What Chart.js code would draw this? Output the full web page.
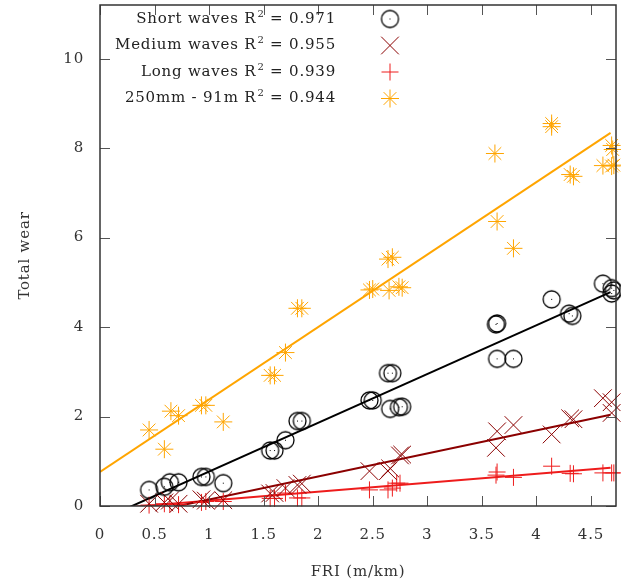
<!DOCTYPE html>
<html><head><meta charset="utf-8">
<script src="https://cdn.jsdelivr.net/npm/chart.js@4/dist/chart.umd.min.js"></script>
<style>html,body{margin:0;padding:0;background:#fff;}</style>
</head><body>
<canvas id="c" width="621" height="586"></canvas>
<script>
// ---- data ----
const seriesNames = ["Short waves", "Medium waves", "Long waves", "250mm - 91m"];
const r2Values = ["0.971", "0.955", "0.939", "0.944"];

const shortX = [0.45,0.59,0.64,0.72,0.93,0.97,1.13,1.56,1.60,1.70,1.81,1.85,2.47,2.50,2.64,2.68,2.66,2.74,2.77,3.63,3.64,3.64,3.79,4.14,4.30,4.33,4.61,4.69,4.69,4.71];
const shortY = [0.36,0.43,0.53,0.53,0.65,0.65,0.51,1.24,1.24,1.47,1.90,1.90,2.36,2.36,2.97,2.97,2.17,2.21,2.22,4.06,4.08,3.29,3.29,4.62,4.30,4.25,4.97,4.87,4.75,4.82];

const mediumX = [0.45,0.59,0.64,0.72,0.93,0.97,1.13,1.56,1.60,1.70,1.81,1.85,2.47,2.64,2.66,2.75,2.77,3.63,3.64,3.79,4.14,4.31,4.34,4.61,4.69,4.69];
const mediumY = [0.05,0.08,0.12,0.05,0.15,0.12,0.13,0.28,0.29,0.40,0.47,0.50,0.78,0.78,0.84,1.13,1.15,1.30,1.67,1.81,1.60,1.96,1.94,2.41,2.32,2.08];

const longX = [0.45,0.59,0.64,0.72,0.93,0.97,1.13,1.56,1.60,1.70,1.81,1.85,2.47,2.64,2.68,2.72,2.75,3.63,3.64,3.79,4.14,4.31,4.34,4.61,4.69,4.71];
const longY = [0.02,0.05,0.04,0.03,0.08,0.10,0.10,0.17,0.17,0.29,0.18,0.18,0.36,0.36,0.40,0.51,0.51,0.69,0.76,0.64,0.89,0.73,0.72,0.74,0.74,0.74];

const mmX = [0.45,0.59,0.65,0.72,0.93,0.97,1.13,1.56,1.60,1.70,1.81,1.85,2.47,2.50,2.64,2.68,2.65,2.74,2.77,3.62,3.64,3.79,4.14,4.14,4.31,4.34,4.61,4.69,4.70,4.69,4.71];
const mmY = [1.70,1.27,2.12,2.02,2.25,2.25,1.88,2.92,2.92,3.43,4.42,4.42,4.83,4.85,5.52,5.56,4.82,4.90,4.88,7.88,6.36,5.76,8.55,8.48,7.41,7.37,7.61,8.06,7.97,7.60,7.62];

// linear fits (slope, intercept) per series
const fitSlope = [1.09, 0.515, 0.20, 1.62];
const fitIntercept = [-0.32, -0.37, -0.08, 0.76];
const fitRange = [0, 4.68];

const xTicks = [0, 0.5, 1, 1.5, 2, 2.5, 3, 3.5, 4, 4.5];
const yTicks = [0, 2, 4, 6, 8, 10];

// ---- styles ----
const FONT = "'DejaVu Serif', serif";
const FSIZE = 15;
const SPACING = '0.8px';
const colors = ["#000000", "#8b0000", "#ee1c1c", "#ffa500"];

function circleDot() {
  const c = document.createElement('canvas');
  c.width = 21; c.height = 21;
  const g = c.getContext('2d');
  g.strokeStyle = '#000'; g.lineWidth = 1.3;
  g.beginPath(); g.arc(10.5, 10.5, 8.5, 0, Math.PI * 2); g.stroke();
  g.fillStyle = '#000'; g.fillRect(10, 10, 1, 1);
  return c;
}
const circleImg = circleDot();

const styles = [
  { pointStyle: circleImg, radius: 9 },
  { pointStyle: 'crossRot', radius: 12.5 },
  { pointStyle: 'cross', radius: 8.5 },
  { pointStyle: 'star', radius: 9 }
];

const xs = [shortX, mediumX, longX, mmX];
const ys = [shortY, mediumY, longY, mmY];

const datasets = [];
for (let i = 0; i < 4; i++) {
  datasets.push({
    type: 'scatter',
    label: seriesNames[i] + " R\u00B2 = " + r2Values[i],
    data: xs[i].map((x, k) => ({ x: x, y: ys[i][k] })),
    pointStyle: styles[i].pointStyle,
    pointRadius: styles[i].radius,
    pointHoverRadius: styles[i].radius,
    borderColor: colors[i],
    backgroundColor: 'rgba(0,0,0,0)',
    borderWidth: 1,
    showLine: false,
    clip: false,
    isSeries: true,
    seriesIndex: i
  });
}
for (let i = 0; i < 4; i++) {
  datasets.push({
    type: 'line',
    label: seriesNames[i] + " fit",
    data: fitRange.map(x => ({ x: x, y: fitSlope[i] * x + fitIntercept[i] })),
    borderColor: colors[i],
    borderWidth: 2,
    pointRadius: 0,
    showLine: true,
    fill: false,
    tension: 0
  });
}

const spacingPlugin = {
  id: 'gpSpacing',
  beforeDraw(chart) { try { chart.ctx.letterSpacing = SPACING; } catch (e) {} }
};

const frame = {
  id: 'gpFrame',
  afterDatasetsDraw(chart) {
    const { ctx, chartArea: a } = chart;
    const xs_ = chart.scales.x, ys_ = chart.scales.y;
    ctx.save();
    ctx.strokeStyle = '#555'; ctx.lineWidth = 1;
    const L = 10;
    ctx.beginPath();
    xTicks.forEach(v => {
      const px = Math.round(xs_.getPixelForValue(v)) + 0.5;
      ctx.moveTo(px, a.bottom); ctx.lineTo(px, a.bottom - L);
      ctx.moveTo(px, a.top); ctx.lineTo(px, a.top + L);
    });
    yTicks.forEach(v => {
      const py = Math.round(ys_.getPixelForValue(v)) + 0.5;
      ctx.moveTo(a.left, py); ctx.lineTo(a.left + L, py);
      ctx.moveTo(a.right, py); ctx.lineTo(a.right - L, py);
    });
    ctx.stroke();
    ctx.strokeStyle = '#333'; ctx.lineWidth = 1.5;
    ctx.strokeRect(a.left, a.top, a.right - a.left, a.bottom - a.top);

    // legend (gnuplot style: right-aligned text, marker on the right)
    const textRight = 336, markX = 390;
    try { ctx.letterSpacing = SPACING; } catch (e) {}
    chart.data.datasets.filter(d => d.isSeries).forEach((ds, i) => {
      const y = 19 + i * 26.5;
      ctx.fillStyle = '#222';
      ctx.textBaseline = 'middle';
      ctx.textAlign = 'right';
      ctx.font = FSIZE + "px " + FONT;
      const tail = " = " + r2Values[ds.seriesIndex];
      ctx.fillText(tail, textRight, y);
      let xr = textRight - ctx.measureText(tail).width;
      ctx.font = "10px " + FONT;
      ctx.fillText("2", xr, y - 5);
      xr -= ctx.measureText("2").width + 1;
      ctx.font = FSIZE + "px " + FONT;
      ctx.fillText(seriesNames[ds.seriesIndex] + " R", xr, y);
      ctx.strokeStyle = ds.borderColor;
      ctx.lineWidth = 1;
      Chart.helpers.drawPoint(ctx, { pointStyle: ds.pointStyle, radius: ds.pointRadius, rotation: 0, borderWidth: 1 }, markX, y);
    });
    ctx.restore();
  }
};

new Chart(document.getElementById('c'), {
  type: 'scatter',
  data: { datasets: datasets },
  plugins: [spacingPlugin, frame],
  options: {
    responsive: false,
    animation: false,
    devicePixelRatio: 1,
    layout: { autoPadding: false, padding: { top: 5, right: 5, left: 0, bottom: 0 } },
    font: { family: FONT, size: FSIZE },
    plugins: { legend: { display: false }, tooltip: { enabled: false } },
    scales: {
      x: {
        type: 'linear', min: 0, max: 4.73,
        grid: { display: false, drawTicks: false },
        border: { display: false },
        afterBuildTicks: s => { s.ticks = xTicks.map(v => ({ value: v })); },
        afterFit: s => { s.height = 80; s.paddingLeft = 0; s.paddingRight = 0; },
        ticks: { padding: 20, color: '#333', font: { family: FONT, size: FSIZE }, maxRotation: 0, autoSkip: false,
                 callback: v => String(v) },
        title: { display: true, text: 'FRI (m/km)', color: '#333', font: { family: FONT, size: FSIZE },
                 padding: { top: 0, bottom: 5 } }
      },
      y: {
        type: 'linear', min: 0, max: 11.2,
        grid: { display: false, drawTicks: false },
        border: { display: false },
        afterBuildTicks: s => { s.ticks = yTicks.map(v => ({ value: v })); },
        afterFit: s => { s.width = 100; s.paddingTop = 0; s.paddingBottom = 0; },
        ticks: { padding: 16, color: '#333', font: { family: FONT, size: FSIZE }, autoSkip: false,
                 callback: v => String(v) },
        title: { display: true, text: 'Total wear', color: '#333', font: { family: FONT, size: FSIZE },
                 padding: { top: 16, bottom: 0 } }
      }
    }
  }
});
</script>
</body></html>
